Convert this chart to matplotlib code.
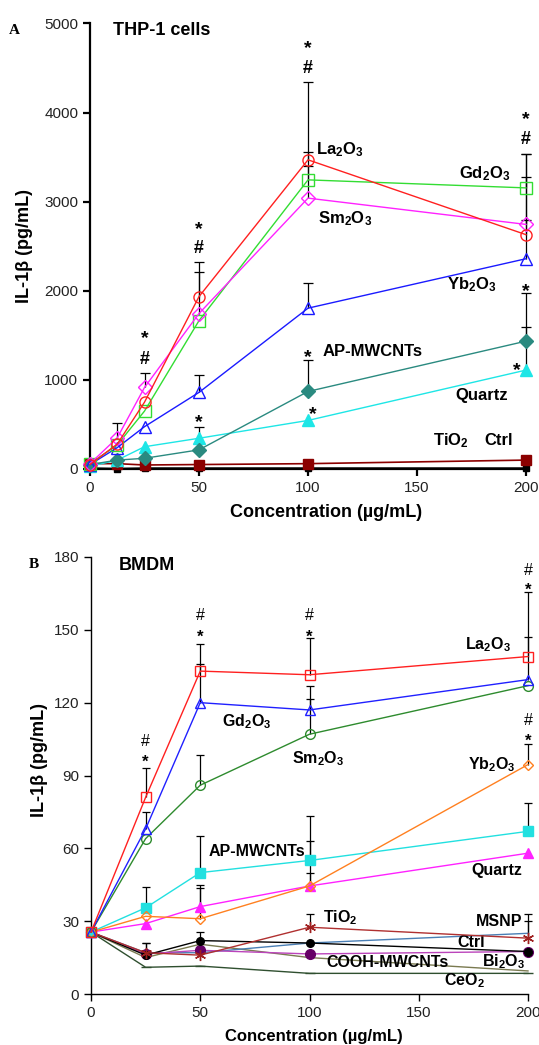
import matplotlib
matplotlib.use("Agg")
import matplotlib.pyplot as plt
import numpy as np

plt.rcParams['font.family'] = ['Liberation Sans', 'DejaVu Sans']
plt.rcParams['mathtext.default'] = 'regular'

# ---------------- Panel A data (THP-1 cells) ----------------
conc_a = [0, 12.5, 25, 50, 100, 200]
la_a = [50, 280, 750, 1935, 3470, 2630]
gd_a = [60, 270, 650, 1665, 3245, 3155]
sm_a = [60, 350, 915, 1745, 3040, 2745]
yb_a = [50, 240, 475, 860, 1805, 2360]
ap_a = [50, 100, 120, 215, 870, 1435]
qz_a = [30, 100, 250, 345, 545, 1110]
ti_a = [60, 60, 45, 50, 60, 100]
ctrl_a = [10, 5, 10, 10, 10, 10]

la_a_err = [0, 0, 0, 385, 870, 650]
gd_a_err = [0, 0, 0, 0, 315, 385]
sm_a_err = [0, 170, 165, 465, 360, 785]
yb_a_err = [0, 0, 0, 190, 280, 440]
ap_a_err = [0, 0, 0, 0, 350, 535]
qz_a_err = [0, 0, 0, 125, 0, 480]

star_a_x = [25, 50, 100, 200, 50, 100, 102, 200, 196]
star_a_y = [1543, 2767, 4800, 4003, 607, 1337, 700, 2075, 1187]
hash_a_x = [25, 50, 100, 200]
hash_a_y = [1247, 2494, 4520, 3715]

labels_a = ["La$_2$O$_3$", "Gd$_2$O$_3$", "Sm$_2$O$_3$", "Yb$_2$O$_3$", "AP-MWCNTs", "Quartz", "TiO$_2$", "Ctrl"]
label_a_x = [103.5, 169.3, 104.6, 163.8, 106.5, 167.7, 157.4, 181]
label_a_y = [3580, 3319, 2814, 2065, 1317, 830, 318, 318]

# ---------------- Panel B data (BMDM) ----------------
conc_b = [0, 25, 50, 100, 200]
la_b = [25.5, 81, 133, 131.5, 139]
gd_b = [25.5, 68, 120, 117, 129.5]
sm_b = [25.5, 64, 86, 107, 127]
yb_b = [25.5, 32, 31, 44.5, 94.5]
ap_b = [25.5, 35.5, 50, 55, 67]
qz_b = [25.5, 29, 36, 44.5, 58]
ti_b = [25.5, 17, 16, 27.5, 23]
msnp_b = [25.5, 17, 17, 21, 25]
ctrl_b = [25.5, 16, 22, 21, 17.5]
bi_b = [25.5, 16.5, 18, 16.5, 17.5]
cooh_b = [25.5, 15, 20.5, 15, 9.5]
ceo_b = [25.5, 11, 11.5, 8.5, 8.5]

la_b_err = [0, 12, 11, 15, 26.5]
gd_b_err = [0, 7, 16, 10, 17.5]
sm_b_err = [0, 0, 12.5, 14.5, 0]
yb_b_err = [0, 0, 12.5, 18.5, 8.5]
ap_b_err = [0, 8.5, 15, 18.3, 11.5]
qz_b_err = [0, 0, 9, 5.3, 0]
ti_b_err = [0, 4, 0, 5.5, 7]
msnp_b_err = [0, 0, 0, 0, 8]
ctrl_b_err = [0, 5, 3.5, 0, 0]

star_b_x = [25, 50, 100, 200, 200]
star_b_y = [97.7, 149.5, 149.5, 168.7, 106.7]
hash_b_x = [25, 50, 100, 200, 200]
hash_b_y = [104.6, 156.4, 156.4, 174.9, 113.3]

labels_b = ["La$_2$O$_3$", "Gd$_2$O$_3$", "Sm$_2$O$_3$", "Yb$_2$O$_3$", "AP-MWCNTs", "Quartz",
            "TiO$_2$", "MSNP", "Ctrl", "COOH-MWCNTs", "Bi$_2$O$_3$", "CeO$_2$"]
label_b_x = [171, 59.8, 91.8, 172.6, 53.8, 174.2, 106, 176, 167.8, 107.5, 178.8, 161.6]
label_b_y = [143.7, 112.2, 97, 94.3, 58.9, 50.8, 31.6, 30, 21.3, 12.9, 13.3, 5.4]

W, H = 539, 1045
fig = plt.figure(figsize=(W / 100, H / 100), dpi=100)
fig.patch.set_facecolor('white')

def upper_err(ax, x, y, e, lw=0.9, cap=7):
    x = np.asarray(x, float); y = np.asarray(y, float); e = np.asarray(e, float)
    m = e > 0
    ax.vlines(x[m], y[m], y[m] + e[m], colors='black', lw=lw, zorder=2, clip_on=False)
    ax.plot(x[m], y[m] + e[m], ls='none', marker='_', ms=cap, mew=lw, color='black', zorder=2, clip_on=False)

def style_axes(ax, spine_lw):
    for s in ['top', 'right']:
        ax.spines[s].set_visible(False)
    for s in ['left', 'bottom']:
        ax.spines[s].set_linewidth(spine_lw)
    ax.tick_params(direction='out', length=5, width=spine_lw, labelsize=11, colors='black',
                   labelcolor='#222222')

# ---------------- Panel A ----------------
ax1 = fig.add_axes([90 / W, 1 - 469 / H, (526 - 90) / W, (469 - 23.5) / H])
style_axes(ax1, 1.6)
ax1.set_xlim(0, 200)
ax1.set_ylim(0, 5000)
ax1.set_xticks([0, 50, 100, 150, 200])
ax1.set_yticks([0, 1000, 2000, 3000, 4000, 5000])

for e, v in [(la_a_err, la_a), (gd_a_err, gd_a), (sm_a_err, sm_a), (yb_a_err, yb_a), (ap_a_err, ap_a), (qz_a_err, qz_a)]:
    upper_err(ax1, conc_a, v, e)

ms_a = 8
ax1.plot(conc_a, ctrl_a, color='black', lw=1.2, marker='s', ms=5, zorder=3, clip_on=False)
ax1.plot(conc_a, ti_a, color='#8b0000', lw=1.2, marker='s', ms=7, zorder=3, clip_on=False)
ax1.plot(conc_a, qz_a, color='#1ee6e6', lw=1.0, marker='^', ms=ms_a, zorder=4, clip_on=False)
ax1.plot(conc_a, ap_a, color='#2a8a80', lw=1.0, marker='D', ms=7, zorder=4, clip_on=False)
ax1.plot(conc_a, yb_a, color='#1a1aff', lw=1.0, marker='^', ms=ms_a, mfc='none', mew=1.0, zorder=4, clip_on=False)
ax1.plot(conc_a, gd_a, color='#33dd33', lw=1.0, marker='s', ms=ms_a, mfc='none', mew=1.0, zorder=4, clip_on=False)
ax1.plot(conc_a, sm_a, color='#ff22ff', lw=1.0, marker='D', ms=7, mfc='none', mew=1.0, zorder=4, clip_on=False)
ax1.plot(conc_a, la_a, color='#ff2020', lw=1.0, marker='o', ms=ms_a, mfc='none', mew=1.0, zorder=4, clip_on=False)

fs_star = 14
for x, y in zip(star_a_x, star_a_y):
    ax1.annotate('*', (x, y), xytext=(0, -0.62 * fs_star), textcoords='offset points',
                 ha='center', va='baseline', fontsize=fs_star, fontweight='bold')
for x, y in zip(hash_a_x, hash_a_y):
    ax1.annotate('#', (x, y), xytext=(0, -0.36 * 13), textcoords='offset points',
                 ha='center', va='baseline', fontsize=13, fontweight='bold')

for t, x, y in zip(labels_a, label_a_x, label_a_y):
    ax1.text(x, y, t, ha='left', va='center', fontsize=12, fontweight='bold')

ax1.text(10.7, 4927, 'THP-1 cells', ha='left', va='center', fontsize=13, fontweight='bold')
ax1.set_xlabel('Concentration (µg/mL)', fontsize=13, fontweight='bold')
ax1.xaxis.set_label_coords((326 - 90) / (526 - 90), -(513 - 469) / (469 - 23.5))
ax1.xaxis.label.set_va('center')
fig.text(25 / W, 1 - 246 / H, 'IL-1β (pg/mL)', rotation=90, ha='center', va='center',
         fontsize=13, fontweight='bold')
fig.text(14 / W, 1 - 30 / H, 'A', family='Liberation Serif', fontweight='bold', fontsize=11,
         ha='center', va='center')

# ---------------- Panel B ----------------
ax2 = fig.add_axes([91 / W, 1 - 994 / H, (528 - 91) / W, (994 - 557) / H])
style_axes(ax2, 1.0)
ax2.set_xlim(0, 200)
ax2.set_ylim(0, 180)
ax2.set_xticks([0, 50, 100, 150, 200])
ax2.set_yticks([0, 30, 60, 90, 120, 150, 180])

for e, v in [(la_b_err, la_b), (gd_b_err, gd_b), (sm_b_err, sm_b), (yb_b_err, yb_b), (ap_b_err, ap_b),
             (qz_b_err, qz_b), (ti_b_err, ti_b), (msnp_b_err, msnp_b), (ctrl_b_err, ctrl_b)]:
    upper_err(ax2, conc_b, v, e, lw=0.9, cap=6)

ms_b = 7
ax2.plot(conc_b, ceo_b, color='#2f4f2f', lw=1.0, marker='_', ms=7, zorder=3, clip_on=False)
ax2.plot(conc_b, cooh_b, color='#7a7a50', lw=1.0, zorder=3, clip_on=False)
ax2.plot(conc_b, bi_b, color='#bb44bb', lw=1.0, marker='o', ms=ms_b, mfc='#660066', mec='#660066', zorder=4, clip_on=False)
ax2.plot(conc_b, ctrl_b, color='black', lw=1.0, marker='o', ms=5.5, zorder=4, clip_on=False)
ax2.plot(conc_b, msnp_b, color='#4a7fb5', lw=1.0, zorder=3, clip_on=False)
ax2.plot(conc_b, ti_b, color='#b03030', lw=1.0, marker=(6, 2, 0), ms=8, mew=1.0, mec='#a02020', zorder=4, clip_on=False)
ax2.plot(conc_b, qz_b, color='#ff22ff', lw=1.0, marker='^', ms=ms_b, zorder=4, clip_on=False)
ax2.plot(conc_b, ap_b, color='#22e0e0', lw=1.0, marker='s', ms=ms_b, zorder=4, clip_on=False)
ax2.plot(conc_b, yb_b, color='#ff8020', lw=1.0, marker='D', ms=5.5, mfc='none', mew=1.0, zorder=4, clip_on=False)
ax2.plot(conc_b, sm_b, color='#2e8b2e', lw=1.0, marker='o', ms=ms_b, mfc='none', mew=1.0, zorder=4, clip_on=False)
ax2.plot(conc_b, gd_b, color='#2020ff', lw=1.0, marker='^', ms=ms_b, mfc='none', mew=1.0, zorder=4, clip_on=False)
ax2.plot(conc_b, la_b, color='#ff2020', lw=1.0, marker='s', ms=ms_b, mfc='none', mew=1.0, zorder=4, clip_on=False)

fs_b = 12
for x, y in zip(star_b_x, star_b_y):
    ax2.annotate('*', (x, y), xytext=(0, -0.62 * fs_b), textcoords='offset points',
                 ha='center', va='baseline', fontsize=fs_b, fontweight='bold')
for x, y in zip(hash_b_x, hash_b_y):
    ax2.annotate('#', (x, y), xytext=(0, -0.36 * 11.5), textcoords='offset points',
                 ha='center', va='baseline', fontsize=11.5)

for t, x, y in zip(labels_b, label_b_x, label_b_y):
    ax2.text(x, y, t, ha='left', va='center', fontsize=11.5, fontweight='bold')

ax2.text(12.6, 176.7, 'BMDM', ha='left', va='center', fontsize=13, fontweight='bold')
ax2.set_xlabel('Concentration (µg/mL)', fontsize=12, fontweight='bold')
ax2.xaxis.set_label_coords((314 - 91) / (528 - 91), -(1036.7 - 994) / (994 - 557))
ax2.xaxis.label.set_va('center')
fig.text(40 / W, 1 - 760 / H, 'IL-1β (pg/mL)', rotation=90, ha='center', va='center',
         fontsize=13, fontweight='bold')
fig.text(34 / W, 1 - 565 / H, 'B', family='Liberation Serif', fontweight='bold', fontsize=11,
         ha='center', va='center')

fig.savefig('out.png', dpi=100)
